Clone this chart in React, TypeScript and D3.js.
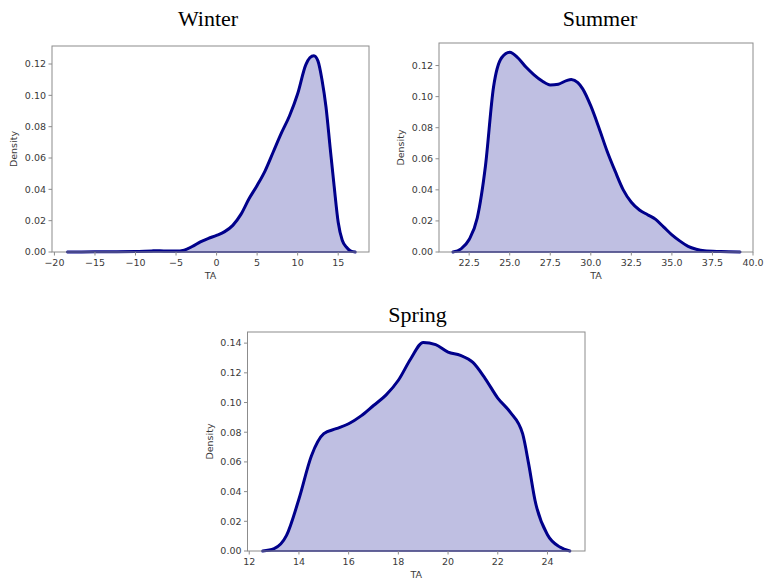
import React from 'react';
import * as d3 from 'd3';

// seasonal KDE curves of air temperature (TA)
const winterTA = [-18.4, -15, -10, -8, -7, -6, -5, -4, -3, -2, -1, 0, 1, 2, 3, 4, 5, 6, 7, 8, 9, 10, 11, 11.5, 12, 12.5, 13, 13.5, 14, 14.5, 15, 15.5, 16, 16.5, 17.1];
const winterDensity = [0, 0.0001, 0.0003, 0.0007, 0.0008, 0.0006, 0.0006, 0.0012, 0.0035, 0.0065, 0.0087, 0.0106, 0.013, 0.017, 0.024, 0.034, 0.0425, 0.052, 0.064, 0.076, 0.087, 0.101, 0.1195, 0.124, 0.1253, 0.122, 0.11, 0.0924, 0.067, 0.042, 0.019, 0.0075, 0.0032, 0.0008, 0];

const summerTA = [21.5, 22, 22.5, 23, 23.5, 24, 24.5, 25, 25.5, 26, 26.5, 27, 27.5, 28, 28.5, 28.8, 29.2, 29.5, 30, 30.5, 31, 31.5, 32, 32.5, 33, 33.5, 34, 34.5, 35, 35.5, 36, 36.5, 37, 38, 39.2];
const summerDensity = [0, 0.002, 0.008, 0.022, 0.055, 0.106, 0.125, 0.1285, 0.125, 0.119, 0.114, 0.11, 0.1075, 0.108, 0.1103, 0.111, 0.109, 0.105, 0.094, 0.08, 0.065, 0.052, 0.04, 0.032, 0.027, 0.024, 0.021, 0.016, 0.011, 0.007, 0.0036, 0.0018, 0.0008, 0.0003, 0];

const springTA = [12.54, 13, 13.5, 14, 14.5, 15, 15.5, 16, 16.5, 17, 17.5, 18, 18.5, 19, 19.5, 20, 20.5, 21, 21.5, 22, 22.5, 23, 23.25, 23.5, 24, 24.5, 24.9];
const springDensity = [0, 0.0016, 0.0105, 0.035, 0.064, 0.079, 0.0824, 0.0857, 0.091, 0.098, 0.105, 0.115, 0.1295, 0.1405, 0.139, 0.134, 0.1318, 0.127, 0.116, 0.103, 0.0935, 0.079, 0.058, 0.034, 0.011, 0.0027, 0];

const winterTicks = [-20, -15, -10, -5, 0, 5, 10, 15];
const summerTicks = [22.5, 25, 27.5, 30, 32.5, 35, 37.5, 40];
const springTicks = [12, 14, 16, 18, 20, 22, 24];
const densityTicks = [0, 0.02, 0.04, 0.06, 0.08, 0.1, 0.12, 0.14];

const NAVY = '#00008b';
const FRAME = '#8c8c8c';
const TICK_TEXT = '#3a3a3a';

function Panel(props) {
  const { title, xs, ys, xTicks, xFmt, xDomain, yMax, left, right, top, bottom, titleX, titleY } = props;

  const x = d3.scaleLinear().domain(xDomain).range([left, right]);
  const y = d3.scaleLinear().domain([0, yMax]).range([bottom, top]);
  const pts = xs.map((v, i) => [v, ys[i]]);

  const line = d3.line().x((d) => x(d[0])).y((d) => y(d[1])).curve(d3.curveMonotoneX);
  const area = d3.area().x((d) => x(d[0])).y0(y(0)).y1((d) => y(d[1])).curve(d3.curveMonotoneX);

  const yTicks = densityTicks.filter((t) => t <= yMax);
  const fmtY = d3.format('.2f');

  return (
    <g>
      <text x={titleX} y={titleY} textAnchor="middle" fontFamily="'Liberation Serif', 'Times New Roman', serif" fontSize={22} fill="#000">
        {title}
      </text>

      {/* filled kde */}
      <path d={area(pts)} fill={NAVY} fillOpacity={0.25} stroke={NAVY} strokeWidth={1.5} />
      <path d={line(pts)} fill="none" stroke={NAVY} strokeWidth={3} strokeLinejoin="round" strokeLinecap="round" />

      {/* frame */}
      <rect x={left} y={top} width={right - left} height={bottom - top} fill="none" stroke={FRAME} strokeWidth={1} />

      {/* y axis */}
      {yTicks.map((t) => (
        <g key={'y' + t}>
          <line x1={left - 3.5} x2={left} y1={y(t)} y2={y(t)} stroke={FRAME} />
          <text x={left - 6} y={y(t)} dy="0.35em" textAnchor="end" fontFamily="'DejaVu Sans', sans-serif" fontSize={9.5} fill={TICK_TEXT}>
            {fmtY(t)}
          </text>
        </g>
      ))}
      <text
        transform={`translate(${left - 38},${(top + bottom) / 2}) rotate(-90)`}
        textAnchor="middle"
        dy="0.35em"
        fontFamily="'DejaVu Sans', sans-serif"
        fontSize={9.5}
        fill={TICK_TEXT}
      >
        Density
      </text>

      {/* x axis */}
      {xTicks.map((t) => (
        <g key={'x' + t}>
          <line x1={x(t)} x2={x(t)} y1={bottom} y2={bottom + 3.5} stroke={FRAME} />
          <text x={x(t)} y={bottom + 13.5} textAnchor="middle" fontFamily="'DejaVu Sans', sans-serif" fontSize={9.5} fill={TICK_TEXT}>
            {xFmt(t).replace('-', '\u2212')}
          </text>
        </g>
      ))}
      <text x={(left + right) / 2} y={bottom + 27} textAnchor="middle" fontFamily="'DejaVu Sans', sans-serif" fontSize={9.5} fill={TICK_TEXT}>
        TA
      </text>
    </g>
  );
}

export default function App() {
  return (
    <svg width={766} height={580} style={{ position: 'absolute', left: 0, top: 0, background: '#fff' }}>
      <Panel
        title="Winter"
        xs={winterTA}
        ys={winterDensity}
        xTicks={winterTicks}
        xFmt={d3.format('d')}
        xDomain={[-20.3, 18.8]}
        yMax={0.1315}
        left={52}
        right={369}
        top={46}
        bottom={252}
        titleX={208}
        titleY={25.5}
      />
      <Panel
        title="Summer"
        xs={summerTA}
        ys={summerDensity}
        xTicks={summerTicks}
        xFmt={d3.format('.1f')}
        xDomain={[20.64, 40.0]}
        yMax={0.1345}
        left={439}
        right={753}
        top={43}
        bottom={252}
        titleX={600}
        titleY={25.5}
      />
      <Panel
        title="Spring"
        xs={springTA}
        ys={springDensity}
        xTicks={springTicks}
        xFmt={d3.format('d')}
        xDomain={[11.93, 25.51]}
        yMax={0.1475}
        left={247.5}
        right={585}
        top={332}
        bottom={551}
        titleX={417.5}
        titleY={322}
      />
    </svg>
  );
}
